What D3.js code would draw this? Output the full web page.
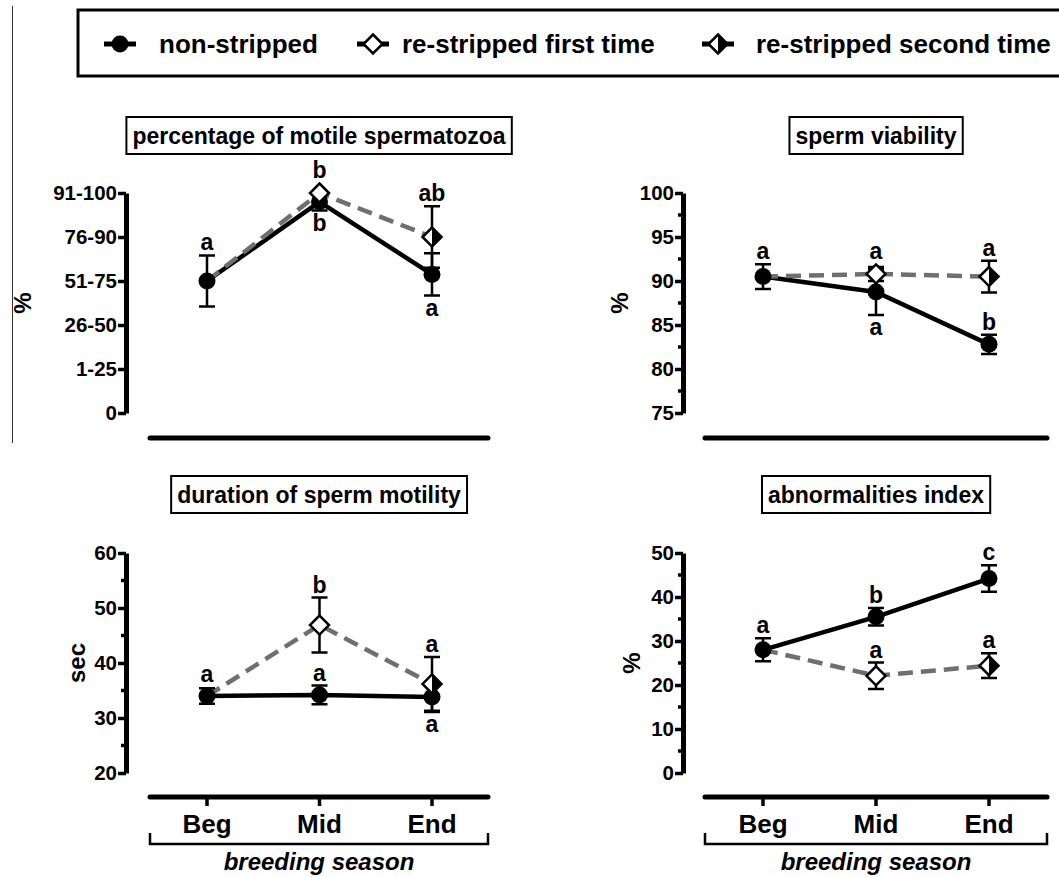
<!DOCTYPE html>
<html>
<head>
<meta charset="utf-8">
<script src="https://cdn.jsdelivr.net/npm/d3@7"></script>
<style>
  body { margin: 0; background: #fff; }
  text { font-family: "Liberation Sans", Arial, sans-serif; font-weight: bold; fill: #000; }
</style>
</head>
<body>
<script>
const W = 1059, H = 877;

// DATA
const categories = ["Beg", "Mid", "End"];
const reCategories = ["Mid", "End"];
const motilityTickLabels = ["0", "1-25", "26-50", "51-75", "76-90", "91-100"];
const seriesNames = ["non-stripped", "re-stripped first time", "re-stripped second time"];

// percentage of motile spermatozoa (score 0..5)
const motilityNon = [3.0, 4.8, 3.15];
const motilityNonErr = [0.58, 0.2, 0.48];
const motilityNonLetters = ["a", "b", "a"];
const motilityNonLetterSide = ["up", "down", "down"];
const motilityRe = [5.0, 4.0];
const motilityReErr = [0, 0.7];
const motilityReLetters = ["b", "ab"];

// sperm viability
const viabilityNon = [90.5, 88.75, 82.8];
const viabilityNonErr = [1.4, 2.6, 1.1];
const viabilityNonLetters = ["a", "a", "b"];
const viabilityNonLetterSide = ["up", "down", "up"];
const viabilityRe = [90.8, 90.5];
const viabilityReErr = [0.8, 1.8];
const viabilityReLetters = ["a", "a"];

// duration of sperm motility
const durationNon = [34.0, 34.2, 33.8];
const durationNonErr = [1.4, 1.7, 2.7];
const durationNonLetters = ["a", "a", "a"];
const durationNonLetterSide = ["up", "up", "down"];
const durationRe = [46.9, 36.2];
const durationReErr = [5.0, 4.9];
const durationReLetters = ["b", "a"];

// abnormalities index
const abnormNon = [28.0, 35.5, 44.2];
const abnormNonErr = [2.6, 2.0, 3.0];
const abnormNonLetters = ["a", "b", "c"];
const abnormNonLetterSide = ["up", "up", "up"];
const abnormRe = [22.1, 24.4];
const abnormReErr = [3.0, 2.8];
const abnormReLetters = ["a", "a"];

const GREY = "#6f6f6f";

const svg = d3.select("body").append("svg").attr("width", W).attr("height", H);

// thin frame line at left
svg.append("line").attr("x1", 12.5).attr("x2", 12.5).attr("y1", 6).attr("y2", 443)
  .attr("stroke", "#333").attr("stroke-width", 1);

// LEGEND
const legend = svg.append("g");
legend.append("rect").attr("x", 78).attr("y", 10).attr("width", 1000).attr("height", 66)
  .attr("fill", "none").attr("stroke", "#000").attr("stroke-width", 3);

function marker(g, kind, cx, cy, r) {
  if (kind === 0) {
    g.append("circle").attr("cx", cx).attr("cy", cy).attr("r", r).attr("fill", "#000");
  } else {
    const s = r + 1;
    g.append("path").attr("d", `M${cx},${cy - s}L${cx + s},${cy}L${cx},${cy + s}L${cx - s},${cy}Z`)
      .attr("fill", "#fff").attr("stroke", "#000").attr("stroke-width", 2.5)
      .attr("stroke-linejoin", "miter");
    if (kind === 2) {
      g.append("path").attr("d", `M${cx},${cy - s}L${cx + s},${cy}L${cx},${cy + s}Z`).attr("fill", "#000");
    }
  }
}

const legendX = [120, 373, 718];
const legendTextX = [159, 402, 756];
seriesNames.forEach((name, i) => {
  legend.append("line").attr("x1", legendX[i] - 16).attr("x2", legendX[i] + 16)
    .attr("y1", 44).attr("y2", 44).attr("stroke", "#000").attr("stroke-width", 5);
  marker(legend, i, legendX[i], 44, 8.5);
  legend.append("text").attr("x", legendTextX[i]).attr("y", 53)
    .style("font-size", "26px").text(name);
});

// PANELS
const panels = [
  { title: "percentage of motile spermatozoa", ylab: "%", labX: 23,
    domain: [0, 5], ticks: d3.range(0, 6), minor: [], fmt: d => motilityTickLabels[d],
    non: motilityNon, nonErr: motilityNonErr, nonLet: motilityNonLetters, nonSide: motilityNonLetterSide,
    re: motilityRe, reErr: motilityReErr, reLet: motilityReLetters,
    yAxisX: 126, xLine: [150, 488], xr: [207, 432], yr: [413, 193], xAxisY: 438, titleY: 135.5, bottom: false },
  { title: "sperm viability", ylab: "%", labX: 620,
    domain: [75, 100], ticks: d3.range(75, 101, 5), minor: d3.range(77.5, 100, 5), fmt: d => d,
    non: viabilityNon, nonErr: viabilityNonErr, nonLet: viabilityNonLetters, nonSide: viabilityNonLetterSide,
    re: viabilityRe, reErr: viabilityReErr, reLet: viabilityReLetters,
    yAxisX: 683, xLine: [705, 1047], xr: [763, 989], yr: [413, 193], xAxisY: 438, titleY: 135.5, bottom: false },
  { title: "duration of sperm motility", ylab: "sec", labX: 77,
    domain: [20, 60], ticks: d3.range(20, 61, 10), minor: d3.range(25, 60, 10), fmt: d => d,
    non: durationNon, nonErr: durationNonErr, nonLet: durationNonLetters, nonSide: durationNonLetterSide,
    re: durationRe, reErr: durationReErr, reLet: durationReLetters,
    yAxisX: 126, xLine: [150, 488], xr: [207, 432], yr: [773, 553], xAxisY: 797, titleY: 494.5, bottom: true },
  { title: "abnormalities index", ylab: "%", labX: 632,
    domain: [0, 50], ticks: d3.range(0, 51, 10), minor: d3.range(5, 50, 10), fmt: d => d,
    non: abnormNon, nonErr: abnormNonErr, nonLet: abnormNonLetters, nonSide: abnormNonLetterSide,
    re: abnormRe, reErr: abnormReErr, reLet: abnormReLetters,
    yAxisX: 683, xLine: [705, 1047], xr: [763, 989], yr: [773, 553], xAxisY: 797, titleY: 494.5, bottom: true }
];

panels.forEach(p => {
  const g = svg.append("g");
  const x = d3.scalePoint().domain(categories).range(p.xr);
  const y = d3.scaleLinear().domain(p.domain).range(p.yr);
  const cx = (p.xLine[0] + p.xLine[1]) / 2;

  // title in a box
  const t = g.append("text").attr("x", cx).attr("y", p.titleY + 8)
    .attr("text-anchor", "middle").style("font-size", "23px").text(p.title);
  const bb = t.node().getBBox();
  g.insert("rect", "text").attr("x", bb.x - 6).attr("y", p.titleY - 18.5)
    .attr("width", bb.width + 12).attr("height", 37)
    .attr("fill", "#fff").attr("stroke", "#000").attr("stroke-width", 2);

  // y axis
  const ya = g.append("g").attr("transform", `translate(${p.yAxisX},0)`)
    .call(d3.axisLeft(y).tickValues(p.ticks).tickFormat(p.fmt).tickSize(8).tickSizeOuter(0).tickPadding(1));
  ya.select(".domain").attr("stroke-width", 5).attr("stroke", "#000");
  ya.selectAll(".tick line").attr("stroke-width", 3.5).attr("stroke", "#000");
  ya.selectAll(".tick text").style("font-size", "20.5px").attr("font-family", null).attr("fill", "#000");
  ya.selectAll(".minor").data(p.minor).enter().append("line").attr("class", "minor")
    .attr("x1", 0).attr("x2", -5).attr("y1", d => y(d)).attr("y2", d => y(d))
    .attr("stroke", "#000").attr("stroke-width", 3.5);

  // y label
  g.append("text").attr("transform", `translate(${p.labX},${(p.yr[0] + p.yr[1]) / 2}) rotate(-90)`)
    .attr("text-anchor", "middle").attr("dy", "0.35em").style("font-size", "24px").text(p.ylab);

  // x axis line
  g.append("line").attr("x1", p.xLine[0]).attr("x2", p.xLine[1])
    .attr("y1", p.xAxisY).attr("y2", p.xAxisY)
    .attr("stroke", "#000").attr("stroke-width", 5).attr("stroke-linecap", "round");
  if (p.bottom) {
    categories.forEach(c => {
      g.append("line").attr("x1", x(c)).attr("x2", x(c)).attr("y1", p.xAxisY).attr("y2", p.xAxisY + 9)
        .attr("stroke", "#000").attr("stroke-width", 3.5);
      g.append("text").attr("x", x(c)).attr("y", p.xAxisY + 36).attr("text-anchor", "middle")
        .style("font-size", "26px").text(c);
    });
    const by = p.xAxisY + 47;
    g.append("path")
      .attr("d", `M${p.xLine[0]},${by - 11}V${by}H${p.xLine[1]}V${by - 11}`)
      .attr("fill", "none").attr("stroke", "#000").attr("stroke-width", 2.5);
    g.append("text").attr("x", cx).attr("y", by + 26).attr("text-anchor", "middle")
      .style("font-size", "24px").style("font-style", "italic").text("breeding season");
  }

  // lines
  const nonPts = categories.map((c, i) => [x(c), y(p.non[i])]);
  const rePts = [nonPts[0]].concat(reCategories.map((c, i) => [x(c), y(p.re[i])]));
  g.append("path").attr("d", d3.line()(nonPts)).attr("fill", "none")
    .attr("stroke", "#000").attr("stroke-width", 4.5).attr("stroke-linejoin", "round");
  g.append("path").attr("d", d3.line()(rePts)).attr("fill", "none")
    .attr("stroke", GREY).attr("stroke-width", 4.5).attr("stroke-dasharray", "15,8");

  // error bars + markers
  function errBar(xv, v, e) {
    if (e <= 0) return;
    g.append("path")
      .attr("d", `M${xv},${y(v - e)}V${y(v + e)}M${xv - 8},${y(v + e)}H${xv + 8}M${xv - 8},${y(v - e)}H${xv + 8}`)
      .attr("fill", "none").attr("stroke", "#000").attr("stroke-width", 2.5);
  }
  function letter(xv, yv, txt, side) {
    g.append("text").attr("x", xv).attr("y", side === "up" ? yv - 5 : yv + 20)
      .attr("text-anchor", "middle").style("font-size", "23px").text(txt);
  }
  categories.forEach((c, i) => errBar(x(c), p.non[i], p.nonErr[i]));
  reCategories.forEach((c, i) => errBar(x(c), p.re[i], p.reErr[i]));
  categories.forEach((c, i) => marker(g, 0, x(c), y(p.non[i]), 8.5));
  reCategories.forEach((c, i) => marker(g, i + 1, x(c), y(p.re[i]), 8.5));

  categories.forEach((c, i) => {
    const e = Math.max(p.nonErr[i], 0);
    const yv = p.nonSide[i] === "up" ? Math.min(y(p.non[i] + e), y(p.non[i]) - 9)
                                     : Math.max(y(p.non[i] - e), y(p.non[i]) + 9);
    letter(x(c), yv, p.nonLet[i], p.nonSide[i]);
  });
  reCategories.forEach((c, i) => {
    const yv = Math.min(y(p.re[i] + p.reErr[i]), y(p.re[i]) - 10);
    letter(x(c), yv, p.reLet[i], "up");
  });
});
</script>
</body>
</html>
